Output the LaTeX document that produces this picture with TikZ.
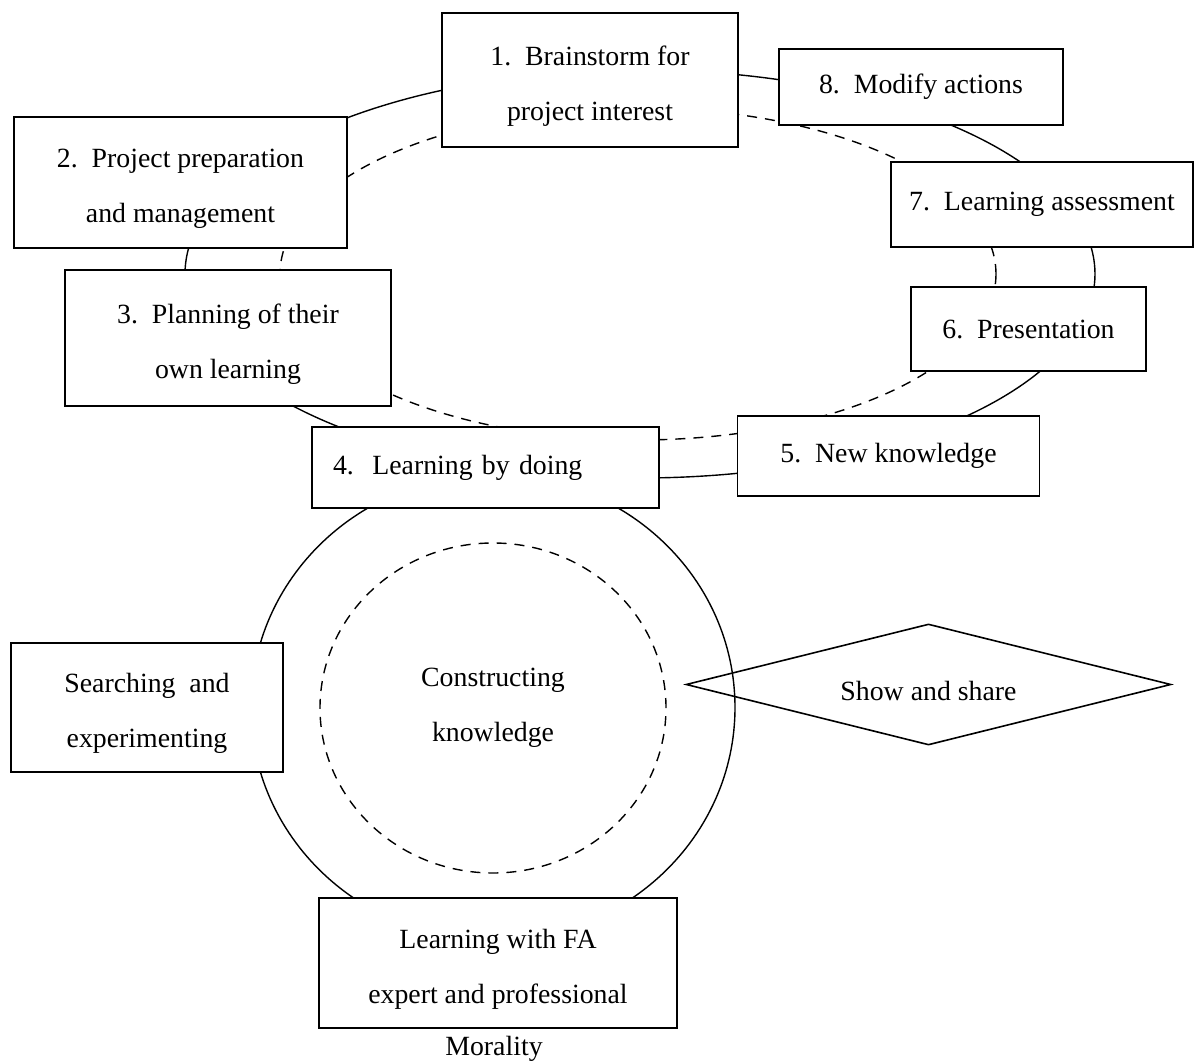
\documentclass[tikz,border=0pt]{standalone}
\usepackage{fontspec}
\setmainfont{Liberation Serif}
\usetikzlibrary{shapes.geometric}
\newcommand{\lift}{\rule{0pt}{15.8pt}}

\begin{document}
\begin{tikzpicture}[x=0.5pt,y=-0.5pt,
	txt/.style={font=\fontsize{13.9}{27.5}\selectfont},
	box/.style={txt,draw,fill=white,line width=0.8pt,inner sep=0pt,align=center},
	ring/.style={draw,ellipse,line width=0.7pt,inner sep=0pt},
	dashring/.style={ring,dash pattern=on 5pt off 4pt}]
	\useasboundingbox (0,0) rectangle (1195,1064);
	%RINGS
	\node[ring,minimum width=455pt,minimum height=204pt] (outer) at (640,274) {};
	\node[dashring,minimum width=358pt,minimum height=166pt] (inner) at (638,274) {};
	\node[ring,minimum width=242pt,minimum height=233pt] (cycle) at (493,707.5) {};
	\node[dashring,txt,align=center,minimum width=173pt,minimum height=165pt] (core) at (493,708) {Constructing\\knowledge};
	%STEPS
	\node[box,minimum width=148pt,minimum height=67pt] (s1) at (590,80) {\lift 1.\ \ Brainstorm for\\project interest};
	\node[box,minimum width=166.5pt,minimum height=65.5pt] (s2) at (180.5,182.5) {\lift 2.\ \ Project preparation\\and management};
	\node[box,minimum width=163pt,minimum height=68pt] (s3) at (228,338) {\lift 3.\ \ Planning of their\\own learning};
	\node[box,align=left,text width=152.5pt,inner xsep=10.5pt,minimum height=40.5pt] (s4) at (485.5,467.5) {4.\ \ Learning by doing};
	\node[box,minimum width=151pt,minimum height=40pt] (s5) at (888.5,456) {5.\ \ New knowledge};
	\node[box,minimum width=117.5pt,minimum height=42pt] (s6) at (1028.5,329) {6.\ \ Presentation};
	\node[box,minimum width=151pt,minimum height=42.5pt] (s7) at (1042,204.5) {7.\ \ Learning assessment};
	\node[box,minimum width=142pt,minimum height=38pt] (s8) at (921,87) {8.\ \ Modify actions};
	%AROUND THE CORE
	\node[box,minimum width=136pt,minimum height=64.5pt] (search) at (147,707.5) {\lift Searching\ \ and\\experimenting};
	\node[box,minimum width=179pt,minimum height=65pt] (fa) at (498,963) {\lift Learning with FA\\expert and professional};
	\node[txt,anchor=base] (moral) at (494,1055) {Morality};
	\node[txt,draw,diamond,aspect=4,line width=0.8pt,inner sep=0pt,minimum width=242.5pt,minimum height=60.5pt] (share) at (928.5,684.5) {\lift Show and share};
\end{tikzpicture}
\end{document}
